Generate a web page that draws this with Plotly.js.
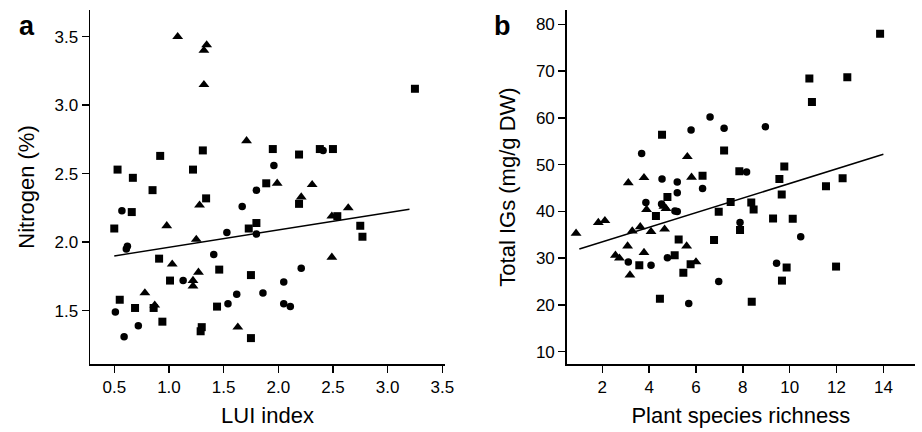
<!DOCTYPE html>
<html>
<head>
<meta charset="utf-8">
<script src="https://cdn.plot.ly/plotly-3.0.1.min.js"></script>
<style>html,body{margin:0;padding:0;background:#fff;}#chart{width:922px;height:432px;}</style>
</head>
<body>
<div id="chart"></div>
<script>
// Panel a: LUI index vs Nitrogen (%)
const aTriX = [1.08,1.345,1.32,1.32,1.71,1.99,2.31,2.21,1.28,2.64,2.49,0.98,1.25,1.03,1.27,1.22,1.22,0.78,0.87,1.63,2.49];
const aTriY = [3.50,3.44,3.40,3.15,2.74,2.43,2.42,2.33,2.27,2.25,2.19,2.12,2.02,1.84,1.78,1.72,1.68,1.63,1.54,1.38,1.89];
const aSqX = [3.25,0.53,0.67,0.92,0.85,0.66,0.50,1.22,1.31,1.34,1.95,2.19,2.38,2.50,1.89,2.19,2.54,2.75,2.77,1.80,1.73,0.91,1.46,1.75,1.01,0.55,0.69,0.86,0.94,1.44,1.30,1.29,1.75];
const aSqY = [3.12,2.53,2.47,2.63,2.38,2.22,2.10,2.53,2.67,2.32,2.68,2.64,2.68,2.68,2.43,2.28,2.19,2.12,2.04,2.14,2.10,1.88,1.80,1.76,1.72,1.58,1.52,1.52,1.42,1.53,1.38,1.35,1.30];
const aCirX = [0.57,0.62,0.61,0.51,0.59,0.72,1.13,1.41,1.53,1.54,1.62,1.67,1.80,1.96,1.80,1.86,2.05,2.05,2.11,2.21,2.41];
const aCirY = [2.23,1.97,1.95,1.49,1.31,1.39,1.72,1.91,2.07,1.55,1.62,2.26,2.38,2.56,2.06,1.63,1.71,1.55,1.53,1.81,2.67];
const aFitX = [0.5, 3.2];
const aFitY = [1.90, 2.24];

// Panel b: plant species richness vs total IGs
const bSqX = [13.86,10.84,12.46,10.95,4.55,7.20,7.85,9.77,9.56,12.26,11.55,9.66,6.28,4.78,7.48,8.36,8.46,6.97,4.29,9.29,10.13,7.88,5.26,6.77,5.09,3.58,5.77,5.46,9.87,11.98,9.67,4.46,8.38];
const bSqY = [78.0,68.4,68.7,63.4,56.4,53.0,48.6,49.6,46.9,47.1,45.4,43.6,47.6,43.1,42.0,41.9,40.4,39.9,39.0,38.5,38.4,36.0,34.0,33.9,30.6,28.5,28.7,26.9,28.0,28.2,25.2,21.3,20.7];
const bCirX = [6.60,5.79,7.20,8.96,3.68,4.55,5.20,5.20,6.28,8.16,3.86,4.53,5.10,5.20,7.88,10.47,3.11,4.08,4.78,9.44,6.97,5.69];
const bCirY = [60.2,57.4,57.8,58.1,52.4,46.9,46.3,44.0,44.9,48.4,41.9,41.6,40.1,40.0,37.6,34.6,29.2,28.5,30.1,28.9,25.0,20.3];
const bTriX = [0.88,1.83,2.11,3.11,3.78,5.63,5.81,3.89,4.63,4.72,3.62,3.28,4.08,4.66,3.08,3.78,5.60,2.56,2.73,3.18,6.00];
const bTriY = [35.3,37.6,38.0,46.1,47.2,51.7,47.3,40.4,41.1,40.6,36.7,35.8,35.7,36.2,32.6,31.2,32.6,30.6,30.0,26.4,29.2];
const bFitX = [1.02, 14.0];
const bFitY = [31.95, 52.2];

const aTicks = [0.5,1.0,1.5,2.0,2.5,3.0,3.5];
const aYTicks = [1.5,2.0,2.5,3.0,3.5];
const bTicks = [2,4,6,8,10,12,14];
const bYTicks = [10,20,30,40,50,60,70,80];

const FONT = 'Liberation Sans, Arial, sans-serif';
function pts(x, y, sym, size, xa, ya) {
  return {x: x, y: y, type: 'scatter', mode: 'markers', xaxis: xa, yaxis: ya,
    marker: {symbol: sym, size: size, color: '#000', line: {width: 0}}, showlegend: false, hoverinfo: 'x+y'};
}
function fit(x, y, xa, ya) {
  return {x: x, y: y, type: 'scatter', mode: 'lines', xaxis: xa, yaxis: ya,
    line: {color: '#000', width: 1.5}, showlegend: false, hoverinfo: 'skip'};
}
const data = [
  pts(aSqX, aSqY, 'square', 8, 'x', 'y'),
  pts(aCirX, aCirY, 'circle', 7.5, 'x', 'y'),
  pts(aTriX, aTriY, 'triangle-up', 9.5, 'x', 'y'),
  fit(aFitX, aFitY, 'x', 'y'),
  pts(bSqX, bSqY, 'square', 8, 'x2', 'y2'),
  pts(bCirX, bCirY, 'circle', 7.5, 'x2', 'y2'),
  pts(bTriX, bTriY, 'triangle-up', 9.5, 'x2', 'y2'),
  fit(bFitX, bFitY, 'x2', 'y2')
];
const axBase = {showline: true, linecolor: '#000', linewidth: 1.5, ticks: 'outside', ticklen: 7, tickwidth: 1.5,
  tickcolor: '#000', showgrid: false, zeroline: false, tickfont: {family: FONT, size: 17, color: '#000'}};
const yDom = [1 - 364/432, 1 - 10/432];
const TF = {family: FONT, size: 22, color: '#000'};
const layout = {
  width: 922, height: 432, margin: {l: 0, r: 0, t: 0, b: 0},
  paper_bgcolor: '#fff', plot_bgcolor: '#fff', font: {family: FONT, color: '#000'},
  xaxis: Object.assign({}, axBase, {domain: [90/922, 445/922], range: [0.278, 3.525], tickvals: aTicks, tickformat: '.1f',
    anchor: 'y', title: {text: 'LUI index', font: TF, standoff: 11}}),
  yaxis: Object.assign({}, axBase, {domain: yDom, range: [1.111, 3.695], tickvals: aYTicks, tickformat: '.1f',
    anchor: 'x', title: {text: 'Nitrogen (%)', font: TF, standoff: 14}}),
  xaxis2: Object.assign({}, axBase, {domain: [566.7/922, 915/922], range: [0.48, 15.35], tickvals: bTicks,
    anchor: 'y2', title: {text: 'Plant species richness', font: TF, standoff: 11}}),
  yaxis2: Object.assign({}, axBase, {domain: yDom, range: [7.37, 83.06], tickvals: bYTicks,
    anchor: 'x2', title: {text: 'Total IGs (mg/g DW)', font: TF, standoff: 14}}),
  annotations: [
    {text: '<b>a</b>', x: 27/922, y: 1 - 26/432, xref: 'paper', yref: 'paper', showarrow: false,
      xanchor: 'center', yanchor: 'middle', font: {family: FONT, size: 27, color: '#000'}},
    {text: '<b>b</b>', x: 503/922, y: 1 - 26/432, xref: 'paper', yref: 'paper', showarrow: false,
      xanchor: 'center', yanchor: 'middle', font: {family: FONT, size: 27, color: '#000'}}
  ]
};
Plotly.newPlot('chart', data, layout, {staticPlot: true});
</script>
</body>
</html>
